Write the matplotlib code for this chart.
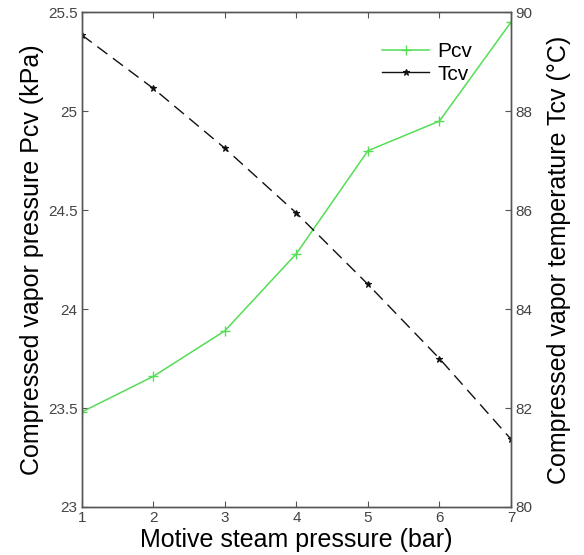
import matplotlib
matplotlib.use("Agg")
import matplotlib.pyplot as plt
from matplotlib.lines import Line2D

# data
steam_pressure = [1, 2, 3, 4, 5, 6, 7]
pcv = [23.48, 23.66, 23.89, 24.28, 24.80, 24.95, 25.45]
tcv = [89.54, 88.46, 87.25, 85.94, 84.50, 83.00, 81.37]

left_ticks = [23, 23.5, 24, 24.5, 25, 25.5]
left_labels = ["23", "23.5", "24", "24.5", "25", "25.5"]
right_ticks = [80, 82, 84, 86, 88, 90]

plt.rcParams['font.family'] = ['Liberation Sans', 'DejaVu Sans']

green = '#55dd55'
tick_col = '#444444'
spine_col = '#555555'

fig = plt.figure(figsize=(5.84, 5.55), dpi=100)
ax = fig.add_axes([0.140, 0.0865, 0.735, 0.8915])
ax2 = ax.twinx()

l1, = ax.plot(steam_pressure, pcv, color=green, lw=1.1, marker='+', ms=7, mew=1.0, label='Pcv')
l2, = ax2.plot(steam_pressure, tcv, color='#111111', lw=1.0, ls=(0, (9, 5)), marker='*', ms=5,
               mew=0.8, label='Tcv')

ax.set_xlim(1, 7)
ax.set_ylim(23, 25.5)
ax2.set_ylim(80, 90)
ax.set_xticks(steam_pressure)
ax.set_yticks(left_ticks)
ax.set_yticklabels(left_labels)
ax2.set_yticks(right_ticks)

ax.tick_params(axis='x', direction='in', top=True, length=4, colors=spine_col, labelcolor=tick_col,
               labelsize=11, pad=3)
ax.tick_params(axis='y', direction='in', length=4, colors=spine_col, labelcolor=tick_col,
               labelsize=11, pad=3)
ax2.tick_params(axis='y', direction='in', length=4, colors=spine_col, labelcolor=tick_col,
                labelsize=11, pad=3)

for a in (ax, ax2):
    for s in a.spines.values():
        s.set_color(spine_col)
        s.set_linewidth(1.0)

ax.set_xlabel('Motive steam pressure (bar)', fontsize=18, labelpad=2)
ax.set_ylabel('Compressed vapor pressure Pcv (kPa)', fontsize=18, labelpad=3)
ax2.set_ylabel('Compressed vapor temperature Tcv (\u00b0C)', fontsize=18, labelpad=11)

# legend handle for Tcv is drawn solid in the reference
tcv_handle = Line2D([], [], color='#111111', lw=1.0, marker='*', ms=5, mew=0.8)
ax.legend([l1, tcv_handle], ['Pcv', 'Tcv'], loc='upper right', bbox_to_anchor=(0.91, 0.939),
          frameon=False, fontsize=15, handlelength=2.25, handletextpad=0.4, labelspacing=0.15,
          borderaxespad=0, borderpad=0)

fig.savefig('out.png', dpi=100)
